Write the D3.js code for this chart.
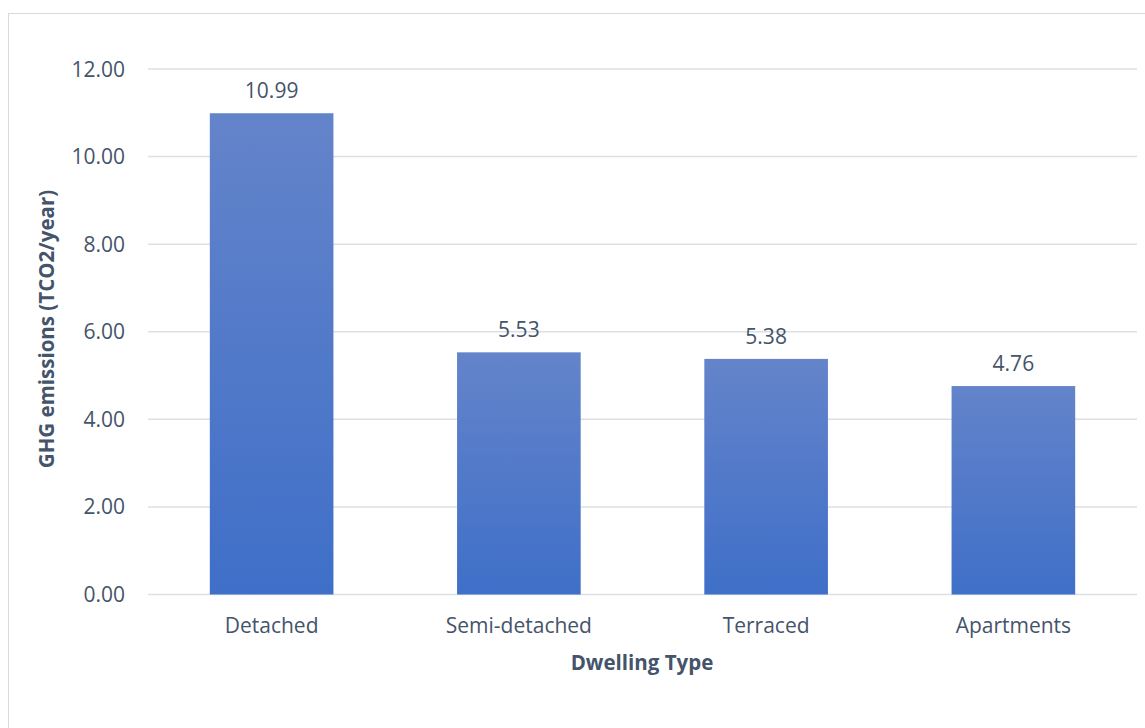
<!DOCTYPE html>
<html>
<head>
<meta charset="utf-8">
<script src="https://cdn.jsdelivr.net/npm/d3@7"></script>
<style>
  html, body { margin: 0; padding: 0; background: #ffffff; }
  svg { display: block; }
  text { font-family: "Open Sans", "Noto Sans", sans-serif; fill: #44546a; }
</style>
</head>
<body>
<svg id="chart" width="1145" height="728"></svg>
<script>
// Dwelling types and annual GHG emissions (tCO2/year)
const categories = ["Detached", "Semi-detached", "Terraced", "Apartments"];
const emissions = [10.99, 5.53, 5.38, 4.76];
const yTicks = [0, 2, 4, 6, 8, 10, 12];

const svg = d3.select("#chart");
const W = 1145, H = 728;
const plot = { left: 148, right: 1137, top: 69, bottom: 594.5 };

// outer chart frame
svg.append("rect")
  .attr("x", 8.5).attr("y", 13.5)
  .attr("width", W + 10).attr("height", H + 10)
  .attr("fill", "none").attr("stroke", "#d9d9d9").attr("stroke-width", 1);

const x = d3.scaleBand()
  .domain(categories)
  .range([plot.left, plot.right])
  .paddingInner(0.5)
  .paddingOuter(0.25);

const y = d3.scaleLinear()
  .domain([0, 12])
  .range([plot.bottom, plot.top]);

// vertical gradient for bars
const defs = svg.append("defs");
const grad = defs.append("linearGradient")
  .attr("id", "barGrad")
  .attr("x1", 0).attr("y1", 0).attr("x2", 0).attr("y2", 1);
grad.append("stop").attr("offset", "0%").attr("stop-color", "#6484ca");
grad.append("stop").attr("offset", "100%").attr("stop-color", "#3f6fc8");

// horizontal gridlines
svg.append("g")
  .selectAll("line")
  .data(yTicks)
  .join("line")
  .attr("x1", plot.left).attr("x2", plot.right)
  .attr("y1", d => y(d)).attr("y2", d => y(d))
  .attr("stroke", "#dcdfe3").attr("stroke-width", 1.5);

// y tick labels
svg.append("g")
  .selectAll("text")
  .data(yTicks)
  .join("text")
  .attr("x", 125)
  .attr("y", d => y(d))
  .attr("dy", "0.36em")
  .attr("text-anchor", "end")
  .attr("font-size", 21)
  .text(d => d3.format(".2f")(d));

// bars
svg.append("g")
  .selectAll("rect")
  .data(emissions)
  .join("rect")
  .attr("x", (d, i) => x(categories[i]))
  .attr("width", x.bandwidth())
  .attr("y", d => y(d))
  .attr("height", d => y(0) - y(d))
  .attr("fill", "url(#barGrad)");

// value labels
svg.append("g")
  .selectAll("text")
  .data(emissions)
  .join("text")
  .attr("x", (d, i) => x(categories[i]) + x.bandwidth() / 2)
  .attr("y", d => y(d) - 15)
  .attr("text-anchor", "middle")
  .attr("font-size", 21)
  .text(d => d3.format(".2f")(d));

// category labels
svg.append("g")
  .selectAll("text")
  .data(categories)
  .join("text")
  .attr("x", d => x(d) + x.bandwidth() / 2)
  .attr("y", 633)
  .attr("text-anchor", "middle")
  .attr("font-size", 21)
  .text(d => d);

// axis titles
svg.append("text")
  .attr("x", 642).attr("y", 670)
  .attr("text-anchor", "middle")
  .attr("font-size", 20.5)
  .attr("font-weight", "bold")
  .text("Dwelling Type");

svg.append("text")
  .attr("transform", "translate(54,329) rotate(-90)")
  .attr("text-anchor", "middle")
  .attr("font-size", 20.5)
  .attr("font-weight", "bold")
  .text("GHG emissions (TCO2/year)");
</script>
</body>
</html>
